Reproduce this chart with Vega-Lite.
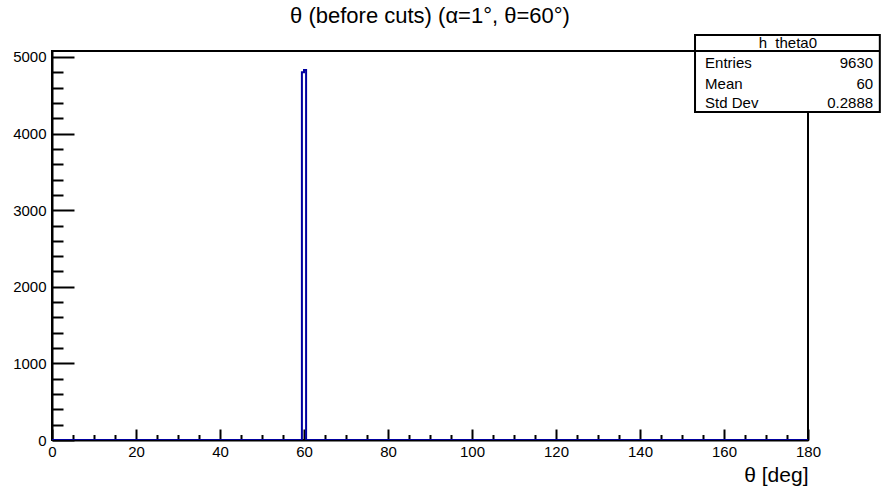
{
  "$schema": "https://vega.github.io/schema/vega-lite/v6.json",
  "width": 756,
  "height": 389,
  "autosize": {"type": "none"},
  "padding": {"left": 52, "top": 51, "right": 73, "bottom": 49},
  "background": "white",
  "config": {
    "font": "Liberation Sans",
    "view": {"stroke": "black", "strokeWidth": 2},
    "axis": {"grid": false, "labelFont": "Liberation Sans", "titleFont": "Liberation Sans", "labelColor": "black", "titleColor": "black", "domainColor": "black", "tickColor": "black", "labelFontSize": 15}
  },
  "title": {"text": "θ (before cuts) (α=1°, θ=60°)", "fontSize": 22, "fontWeight": "normal", "font": "Liberation Sans", "anchor": "middle", "offset": 6, "color": "black"},
  "datasets": {
    "hist": [
      {"theta": 0, "count": 0},
      {"theta": 59.5, "count": 4800},
      {"theta": 60.0, "count": 4830},
      {"theta": 60.5, "count": 0},
      {"theta": 180, "count": 0}
    ],
    "stats": [
      {"label": "Entries", "value": "9630", "row": 4922},
      {"label": "Mean", "value": "60", "row": 4650},
      {"label": "Std Dev", "value": "0.2888", "row": 4400}
    ],
    "box": [{"name": "h_theta0"}]
  },
  "resolve": {"axis": {"x": "independent", "y": "independent"}},
  "layer": [
    {
      "data": {"name": "hist"},
      "mark": {"type": "line", "interpolate": "step-after", "stroke": "#0000a0", "strokeWidth": 2, "clip": true},
      "encoding": {
        "x": {"field": "theta", "type": "quantitative", "scale": {"domain": [0, 180], "nice": false, "zero": false},
          "axis": {"orient": "bottom", "values": [0, 20, 40, 60, 80, 100, 120, 140, 160, 180], "format": "d", "tickSize": -11, "tickWidth": 2, "domainWidth": 2, "labelPadding": 15, "labelFlush": false, "title": "θ [deg]", "titleFontSize": 21, "titleFontWeight": "normal", "titleAnchor": "end", "titleAlign": "right", "titlePadding": 5}},
        "y": {"field": "count", "type": "quantitative", "scale": {"domain": [0, 5078], "nice": false},
          "axis": {"orient": "left", "values": [0, 1000, 2000, 3000, 4000, 5000], "format": "d", "tickSize": -22, "tickWidth": 2, "domainWidth": 2, "labelPadding": 28, "labelFlush": false, "title": null}}
      }
    },
    {
      "data": {"name": "hist"},
      "mark": {"type": "line", "interpolate": "step-after", "stroke": "#0000a0", "strokeWidth": 2, "opacity": 0},
      "encoding": {
        "x": {"field": "theta", "type": "quantitative",
          "axis": {"orient": "bottom", "values": [5, 10, 15, 25, 30, 35, 45, 50, 55, 65, 70, 75, 85, 90, 95, 105, 110, 115, 125, 130, 135, 145, 150, 155, 165, 170, 175], "tickSize": -5.5, "tickWidth": 2, "domain": false, "labels": false, "title": null}},
        "y": {"field": "count", "type": "quantitative",
          "axis": {"orient": "left", "values": [200, 400, 600, 800, 1200, 1400, 1600, 1800, 2200, 2400, 2600, 2800, 3200, 3400, 3600, 3800, 4200, 4400, 4600, 4800], "tickSize": -11, "tickWidth": 2, "domain": false, "labels": false, "title": null}}
      }
    },
    {
      "data": {"name": "box"},
      "mark": {"type": "rect", "fill": "white", "stroke": "black", "strokeWidth": 2, "clip": false},
      "encoding": {
        "x": {"datum": 153.1, "type": "quantitative", "axis": null},
        "x2": {"datum": 197.1},
        "y": {"datum": 5287, "type": "quantitative", "axis": null},
        "y2": {"datum": 4282}
      }
    },
    {
      "data": {"name": "box"},
      "mark": {"type": "rule", "stroke": "black", "strokeWidth": 2, "clip": false},
      "encoding": {
        "x": {"datum": 153.1, "type": "quantitative", "axis": null},
        "x2": {"datum": 197.1},
        "y": {"datum": 5078, "type": "quantitative", "axis": null}
      }
    },
    {
      "data": {"name": "box"},
      "mark": {"type": "text", "fontSize": 15, "align": "center", "baseline": "middle", "color": "black"},
      "encoding": {
        "x": {"datum": 175.2, "type": "quantitative", "axis": null},
        "y": {"datum": 5183, "type": "quantitative", "axis": null},
        "text": {"field": "name"}
      }
    },
    {
      "data": {"name": "stats"},
      "mark": {"type": "text", "fontSize": 15, "align": "left", "baseline": "middle", "color": "black"},
      "encoding": {
        "x": {"datum": 155.5, "type": "quantitative", "axis": null},
        "y": {"field": "row", "type": "quantitative", "axis": null},
        "text": {"field": "label"}
      }
    },
    {
      "data": {"name": "stats"},
      "mark": {"type": "text", "fontSize": 15, "align": "right", "baseline": "middle", "color": "black"},
      "encoding": {
        "x": {"datum": 195.5, "type": "quantitative", "axis": null},
        "y": {"field": "row", "type": "quantitative", "axis": null},
        "text": {"field": "value"}
      }
    }
  ]
}
